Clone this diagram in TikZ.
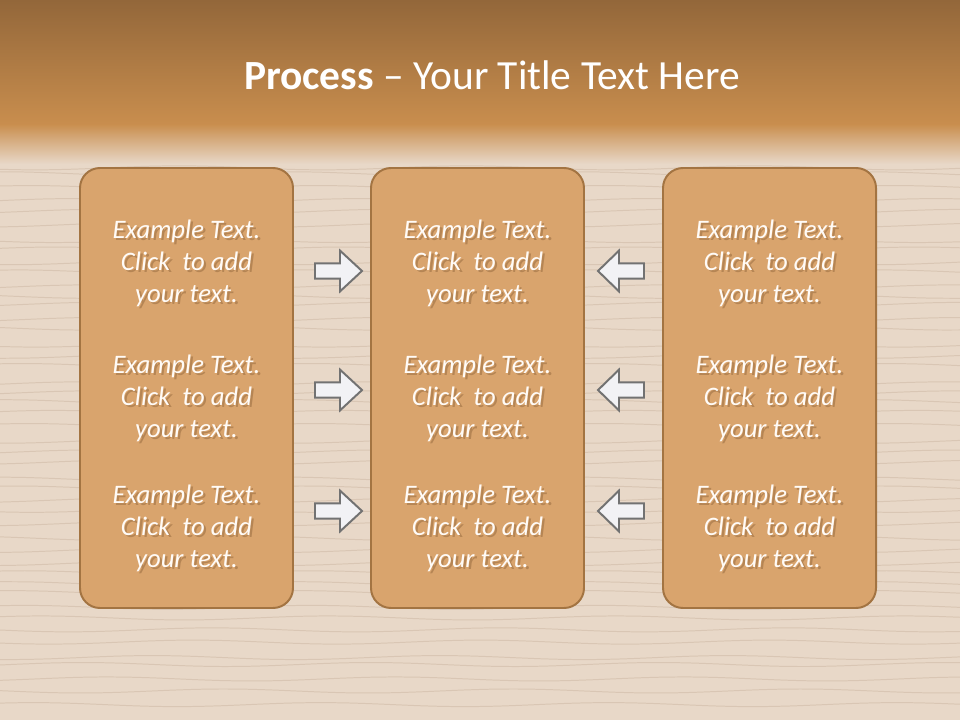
\documentclass[tikz,border=0pt]{standalone}
\usepackage{fontspec}
\setmainfont{Carlito}
\definecolor{hdrtop}{HTML}{93673A}
\definecolor{hdrbot}{HTML}{C98E4E}
\definecolor{sand}{HTML}{E8D8C8}
\definecolor{sandline}{HTML}{D6C2AF}
\definecolor{boxfill}{HTML}{D9A46D}
\definecolor{boxedge}{HTML}{A37442}
\definecolor{arrowfill}{HTML}{F2F2F5}
\definecolor{arrowedge}{HTML}{727272}
\tikzset{
    procbox/.style={draw=boxedge, line width=1.4pt, fill=boxfill, rounded corners=0.5cm,
        minimum width=5.325cm, minimum height=11cm},
    boxtxt/.style={text=white!97!orange, align=center,
        font=\fontsize{19}{22.8}\selectfont\itshape},
    shadowtxt/.style={boxtxt, text=brown!60!black, opacity=0.35},
    blockarrow/.style={fill=arrowfill, draw=arrowedge, line width=1.4pt, line join=miter}
}
\begin{document}
\begin{tikzpicture}
        \useasboundingbox (0,0) rectangle (24,18);
        % background
        \fill[sand] (0,0) rectangle (24,14.1);
        \pgfmathsetseed{7}
        \foreach \i in {1,...,46}
            {
                \pgfmathsetmacro{\yy}{0.1+\i*0.3+0.12*rand}
                \pgfmathsetmacro{\ph}{360*rnd}
                \draw[sandline, line width=0.7pt, opacity=0.8]
                    plot[domain=0:24, samples=40, smooth] (\x,{\yy+0.05*sin(\x*50+\ph)});
            }
        \shade[top color=hdrbot, bottom color=sand] (0,14.9) rectangle (24,13.9);
        \shade[top color=hdrtop, bottom color=hdrbot] (0,18) rectangle (24,14.875);
        \node[text=white, font=\fontsize{29.5}{35}\selectfont] (title) at (12.3,16.125)
            {\textbf{Process} -- Your Title Text Here};
        % boxes
        \node[procbox] (boxL) at (4.6625,8.3) {};
        \node[procbox] (boxM) at (11.9375,8.3) {};
        \node[procbox] (boxR) at (19.2375,8.3) {};
        \foreach \col/\bx in {L/4.6625, M/11.9375, R/19.2375}
            {
                \foreach \row/\by in {1/11.425, 2/8.05, 3/4.8}
                    {
                        \node[shadowtxt] at (\bx+0.06,\by-0.06) {Example Text.\\Click\ \ to add\\your text.};
                        \node[boxtxt] (t\col\row) at (\bx,\by) {Example Text.\\Click\ \ to add\\your text.};
                    }
            }
        % arrows
        \foreach \y in {11.225, 8.25, 5.225}
            {
                \draw[blockarrow] (7.875,\y-0.19) -- ++(0.625,0) -- ++(0,-0.32) -- (9.05,\y)
                    -- (8.5,\y+0.51) -- ++(0,-0.32) -- (7.875,\y+0.19) -- cycle;
                \draw[blockarrow] (16.1,\y-0.19) -- ++(-0.625,0) -- ++(0,-0.32) -- (14.95,\y)
                    -- (15.475,\y+0.51) -- ++(0,-0.32) -- (16.1,\y+0.19) -- cycle;
            }
\end{tikzpicture}
\end{document}
